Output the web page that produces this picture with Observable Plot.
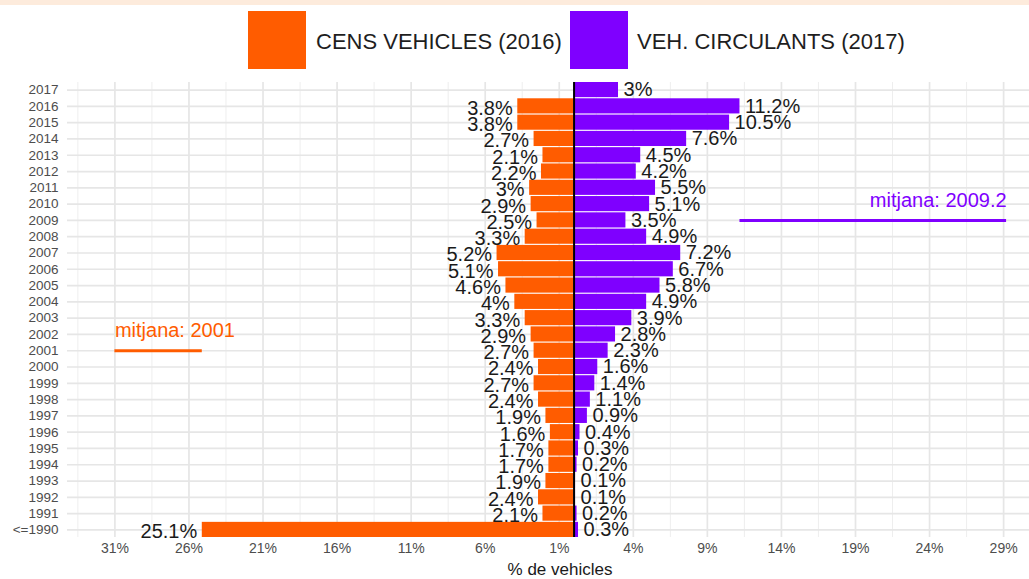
<!DOCTYPE html>
<html>
<head>
<meta charset="utf-8">
<script src="https://cdn.jsdelivr.net/npm/d3@7"></script>
<script src="https://cdn.jsdelivr.net/npm/@observablehq/plot@0.6"></script>
<style>
  html, body { margin: 0; padding: 0; background: #fff; overflow: hidden; font-family: "Liberation Sans", Arial, sans-serif; }
  #band { height: 5px; background: #fdebdc; }
  #legend { position: relative; height: 73px; width: 1029px; }
  .sw { position: absolute; top: 6px; width: 58px; height: 58px; }
  .lt { position: absolute; top: 20px; font-size: 22px; color: #1e1e1e; line-height: 33px; white-space: nowrap; }
  #chart { width: 1052px; }
  #chart svg { max-width: none !important; display: block; }
</style>
</head>
<body>
<div id="band"></div>
<div id="legend">
  <div class="sw" style="left:248px;background:#ff5c00"></div>
  <div class="lt" style="left:316px" id="l1"></div>
  <div class="sw" style="left:570px;background:#7f00ff"></div>
  <div class="lt" style="left:637px" id="l2"></div>
</div>
<div id="chart"></div>
<script>
// ---- data ----
const years = ["2017","2016","2015","2014","2013","2012","2011","2010","2009","2008","2007","2006","2005","2004","2003","2002","2001","2000","1999","1998","1997","1996","1995","1994","1993","1992","1991","<=1990"];
const censVehicles2016 = [null,3.8,3.8,2.7,2.1,2.2,3,2.9,2.5,3.3,5.2,5.1,4.6,4,3.3,2.9,2.7,2.4,2.7,2.4,1.9,1.6,1.7,1.7,1.9,2.4,2.1,25.1];
const vehCirculants2017 = [3,11.2,10.5,7.6,4.5,4.2,5.5,5.1,3.5,4.9,7.2,6.7,5.8,4.9,3.9,2.8,2.3,1.6,1.4,1.1,0.9,0.4,0.3,0.2,0.1,0.1,0.2,0.3];
const seriesNames = ["CENS VEHICLES (2016)", "VEH. CIRCULANTS (2017)"];
const meanLabels = ["mitjana: 2001", "mitjana: 2009.2"];
const meanYears = ["2001", "2009"];
const meanSegStart = [-31, 11.2];
const meanSegEnd = [-25.1, 29.2];
const majorTicks = d3.range(-31, 30, 5);
const minorTicks = d3.range(-33.5, 33, 5);
const xTitle = "% de vehicles";

const orange = "#ff5c00", purple = "#7f00ff";
document.getElementById("l1").textContent = seriesNames[0];
document.getElementById("l2").textContent = seriesNames[1];

const left = years.map((y, i) => ({year: y, v: censVehicles2016[i]})).filter(d => d.v != null);
const right = years.map((y, i) => ({year: y, v: vehCirculants2017[i]})).filter(d => d.v != null);
const means = meanLabels.map((l, i) => ({label: l, year: meanYears[i], x1: meanSegStart[i], x2: meanSegEnd[i]}));

const chart = Plot.plot({
  width: 1052,
  height: 501,
  marginLeft: 67,
  marginRight: 0,
  marginTop: 4,
  marginBottom: 42,
  style: {fontFamily: "'Liberation Sans', Arial, sans-serif", background: "white", maxWidth: "none"},
  x: {domain: [-34.2, 32.3]},
  y: {domain: years, paddingInner: 0.07, paddingOuter: 0, round: false},
  marks: [
    Plot.gridX({ticks: minorTicks, stroke: "#ececec", strokeOpacity: 1, strokeWidth: 0.9}),
    Plot.gridX({ticks: majorTicks, stroke: "#e6e6e6", strokeOpacity: 1, strokeWidth: 1.7}),
    Plot.gridY({stroke: "#e6e6e6", strokeOpacity: 1, strokeWidth: 1.7}),
    Plot.axisX({ticks: majorTicks, tickFormat: d => Math.abs(d) + "%", tickSize: 0, tickPadding: 6, fontSize: 14, color: "#4d4d4d", label: null}),
    Plot.axisY({tickSize: 0, tickPadding: 9, fontSize: 13.5, color: "#4d4d4d", label: null}),
    Plot.barX(left, {x: d => -d.v, y: "year", fill: orange}),
    Plot.barX(right, {x: "v", y: "year", fill: purple}),
    Plot.ruleX([0], {stroke: "black", strokeWidth: 2}),
    Plot.text(left, {x: d => -d.v, y: "year", text: d => d.v + "%", textAnchor: "end", dx: -5, dy: 2, fontSize: 20, fill: "#1a1a1a"}),
    Plot.text(right, {x: "v", y: "year", text: d => d.v + "%", textAnchor: "start", dx: 5, fontSize: 20, fill: "#1a1a1a"}),
    Plot.ruleY(means, {y: "year", x1: "x1", x2: "x2", stroke: (d, i) => i === 0 ? orange : purple, strokeWidth: 3}),
    Plot.text(means.slice(0, 1), {x: "x1", y: "year", text: "label", textAnchor: "start", dy: -20, fontSize: 20, fill: orange}),
    Plot.text(means.slice(1), {x: "x2", y: "year", text: "label", textAnchor: "end", dy: -20, fontSize: 20, fill: purple}),
    Plot.text([xTitle], {frameAnchor: "bottom", dy: 37, fontSize: 17, fill: "#1a1a1a"})
  ]
});
document.getElementById("chart").appendChild(chart);
</script>
</body>
</html>
